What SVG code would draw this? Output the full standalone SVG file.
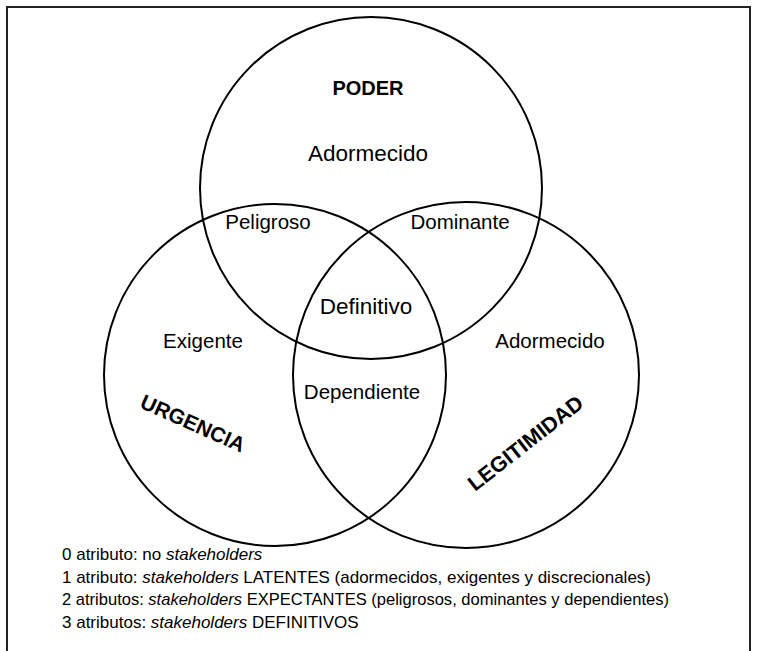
<svg xmlns="http://www.w3.org/2000/svg" width="758" height="651" viewBox="0 0 758 651">
<style>
.c{fill:none;stroke:#000;stroke-width:2}
.t{font-family:"Liberation Sans",Arial,sans-serif;font-size:20.5px;fill:#000;text-anchor:middle}
.b{font-family:"Liberation Sans",Arial,sans-serif;font-size:20px;font-weight:bold;fill:#000;text-anchor:middle}
.l{font-family:"Liberation Sans",Arial,sans-serif;font-size:17px;fill:#000}
</style>
<rect x="0" y="0" width="758" height="651" fill="#fff"/>
<path d="M7,651 V7 H750 V651" fill="none" stroke="#222" stroke-width="2"/>
<g id="poder">
<circle class="c" cx="371" cy="188" r="171"/>
<text class="b" x="368" y="95">PODER</text>
<text class="t" x="368" y="161" style="font-size:22.5px">Adormecido</text>
</g>
<g id="urgencia">
<circle class="c" cx="275" cy="375" r="171"/>
<text class="t" x="203" y="348">Exigente</text>
<text class="b" transform="translate(190,430) rotate(24)" x="0" y="0" style="font-size:21px">URGENCIA</text>
</g>
<g id="legitimidad">
<circle class="c" cx="466" cy="375" r="173"/>
<text class="t" x="550" y="348">Adormecido</text>
<text class="b" transform="translate(530,449) rotate(-38)" x="0" y="0" style="font-size:21.5px">LEGITIMIDAD</text>
</g>
<g id="intersecciones">
<text class="t" x="268" y="229">Peligroso</text>
<text class="t" x="460" y="229">Dominante</text>
<text class="t" x="366" y="314" style="font-size:22.5px">Definitivo</text>
<text class="t" x="362" y="399">Dependiente</text>
</g>
<g id="leyenda">
<text class="l" x="62" y="560">0 atributo: no <tspan font-style="italic">stakeholders</tspan></text>
<text class="l" x="62" y="583" textLength="589" lengthAdjust="spacingAndGlyphs">1 atributo: <tspan font-style="italic">stakeholders</tspan> LATENTES (adormecidos, exigentes y discrecionales)</text>
<text class="l" x="62" y="605" textLength="607" lengthAdjust="spacingAndGlyphs">2 atributos: <tspan font-style="italic">stakeholders</tspan> EXPECTANTES (peligrosos, dominantes y dependientes)</text>
<text class="l" x="62" y="628">3 atributos: <tspan font-style="italic">stakeholders</tspan> DEFINITIVOS</text>
</g>
</svg>
